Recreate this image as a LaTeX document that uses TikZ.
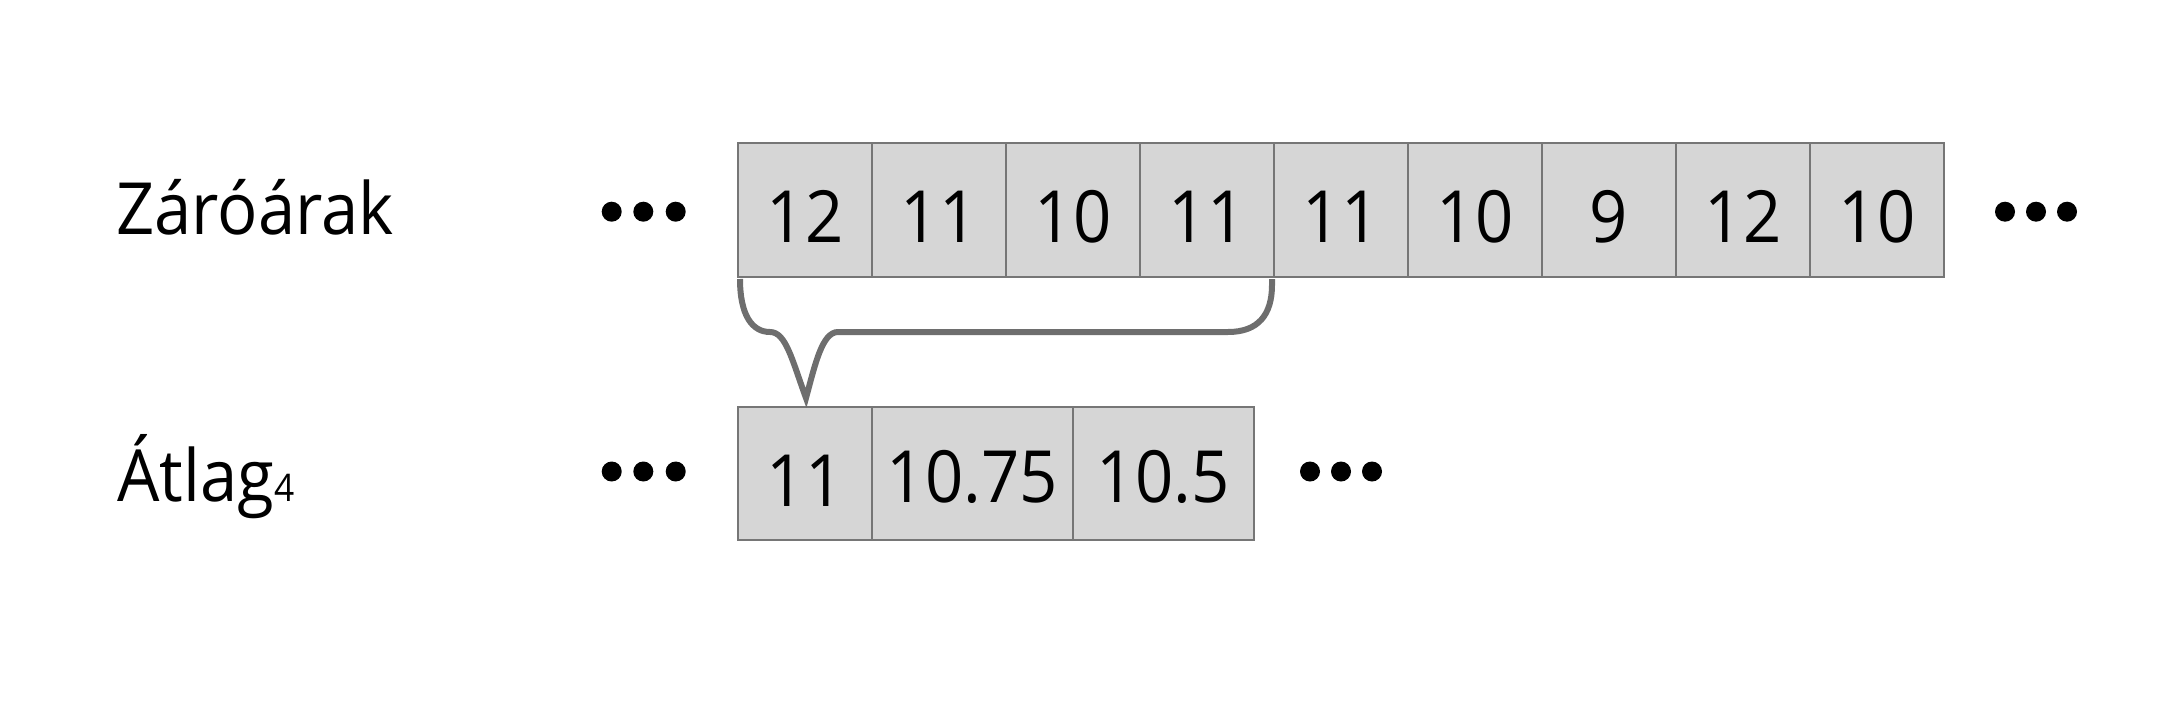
\documentclass[tikz,border=0pt]{standalone}
\usepackage{fontspec}
\setmainfont[FakeStretch=0.93]{Open Sans}
\definecolor{cellfill}{HTML}{D6D6D6}
\definecolor{cellline}{HTML}{767676}
\definecolor{bracec}{HTML}{6E6E6E}
\begin{document}
\begin{tikzpicture}[x=0.5pt,y=-0.5pt,
  cell/.style={draw=cellline, fill=cellfill, line width=1.1pt, inner sep=0pt,
    anchor=north west, font=\fontsize{36}{40}\selectfont, text depth=0pt},
  toprow/.style={cell, minimum width=67pt, minimum height=67pt, text height=32.7pt},
  botrow/.style={cell, minimum height=66.5pt, text height=#1},
  rowlabel/.style={anchor=base west, inner sep=0pt, font=\fontsize{36}{40}\selectfont},
  dotmark/.style={circle, fill=black, inner sep=0pt, minimum size=10pt},
  bracepath/.style={draw=bracec, line width=3pt}]
\useasboundingbox (0,0) rectangle (2168,712);

% labels
\node[rowlabel] (zar) at (116,234) {Záróárak};
\node[rowlabel] (atl) at (117,501.7) {Átlag{\fontsize{19}{21}\selectfont 4}};

% top row
\foreach \v [count=\i from 0] in {12,11,10,11,11,10,9,12,10}{
  \node[toprow] (t\i) at ({737+134*\i},142) {\v};
}

% bottom row
\node[botrow=32.5pt, minimum width=67pt] (b0) at (737,406) {11};
\node[botrow=29.2pt, minimum width=100.3pt] (b1) at (871,406) {10.75};
\node[botrow=29.2pt, minimum width=90.5pt] (b2) at (1071.6,406) {10.5};

% dots
\foreach \x [count=\k] in {611.7,643.3,675.7}{
  \node[dotmark] (dtl\k) at (\x,211.7) {};
  \node[dotmark] (dbl\k) at (\x,471.5) {};
}
\foreach \x [count=\k] in {2005,2036,2067}{
  \node[dotmark] (dtr\k) at (\x,211.7) {};
}
\foreach \x [count=\k] in {1310,1341,1372}{
  \node[dotmark] (dbr\k) at (\x,471.5) {};
}

% brace
\draw[bracepath] (740,279) .. controls (740,315) and (752,332) .. (770,332)
  .. controls (786,332) and (792,360) .. (806,398)
  .. controls (815,365) and (822,332) .. (838,332)
  -- (1228,332) .. controls (1258,332) and (1272,315) .. (1272,285) -- (1272,279);
\end{tikzpicture}
\end{document}
